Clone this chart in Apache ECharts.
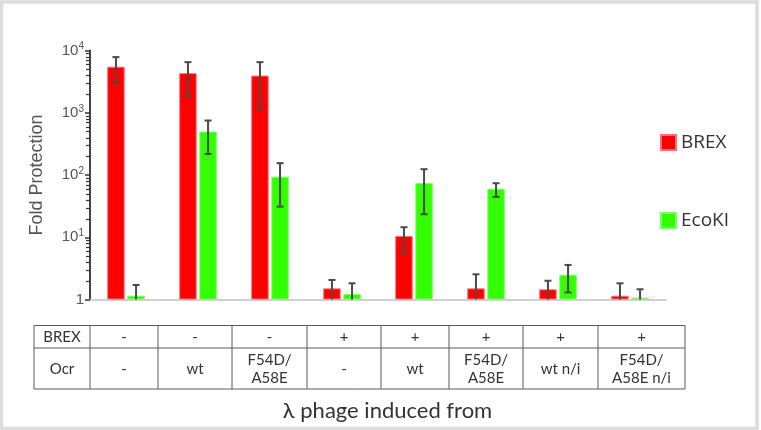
<!DOCTYPE html>
<html>
<head>
<meta charset="utf-8">
<script src="https://cdn.jsdelivr.net/npm/echarts@6/dist/echarts.min.js"></script>
<style>
html,body{margin:0;padding:0;background:#fff;}
#chart{width:761px;height:430px;}
</style>
</head>
<body>
<div id="chart"></div>
<script>
// ---- data ----
const brexRow = ['-', '-', '-', '+', '+', '+', '+', '+'];
const ocrRow = ['-', 'wt', 'F54D/\nA58E', '-', 'wt', 'F54D/\nA58E', 'wt n/i', 'F54D/\nA58E n/i'];
const categories = brexRow.map((b, i) => 'BREX ' + b + ' / Ocr ' + ocrRow[i].replace('\n', ''));
const seriesNames = ['BREX', 'EcoKI'];
const brexValues = [5500, 4330, 3960, 1.51, 10.5, 1.51, 1.46, 1.15];
const brexLow = [2990, 1870, 1186, 0.5, 5.8, 0.5, 0.6, 0.5];
const brexHigh = [7830, 6500, 6500, 2.06, 14.5, 2.54, 2.0, 1.82];
const ecokiValues = [1.15, 499, 94, 1.22, 74.6, 60.4, 2.5, 1.07];
const ecokiLow = [0.5, 218, 31, 0.5, 23.4, 44.5, 1.3, 0.6];
const ecokiHigh = [1.71, 750, 155, 1.82, 124, 73.8, 3.59, 1.46];
const yTickValues = [1, 10, 100, 1000, 10000];

// minor tick values (2..9 within each decade)
const minorTicks = [];
for (let d = 0; d < yTickValues.length - 1; d++) {
  for (let k = 2; k <= 9; k++) minorTicks.push(k * yTickValues[d]);
}

const BAR_W = 17.5;
const BAR_GAP = 2.6;
const OFF = (BAR_W + BAR_GAP) / 2;

function errorSeries(name, low, high, offset) {
  return {
    type: 'custom',
    name: name + ' err',
    z: 10,
    silent: true,
    data: low.map((l, i) => [i, l, high[i]]),
    encode: { x: 0, y: [1, 2] },
    renderItem: function (params, api) {
      const i = api.value(0), lo = api.value(1), hi = api.value(2);
      const top = api.coord([i, hi]);
      const x = top[0] + offset;
      const base = api.coord([i, yTickValues[0]])[1];
      const hasLo = lo >= yTickValues[0];
      const yLo = hasLo ? api.coord([i, lo])[1] : base;
      const st = { stroke: '#4a4a4a', lineWidth: 2 };
      const children = [
        { type: 'line', shape: { x1: x, y1: yLo, x2: x, y2: top[1] }, style: st },
        { type: 'line', shape: { x1: x - 3.5, y1: top[1], x2: x + 3.5, y2: top[1] }, style: st }
      ];
      if (hasLo) children.push({ type: 'line', shape: { x1: x - 3.5, y1: yLo, x2: x + 3.5, y2: yLo }, style: st });
      return { type: 'group', children: children };
    }
  };
}

// table layout
const colEdges = [34, 90, 158, 232, 307, 381, 449, 523, 598, 685];
const rowEdges = [325.5, 348, 389];
const tableRows = [['BREX'].concat(brexRow), ['Ocr'].concat(ocrRow)];
const tableEls = [];
rowEdges.forEach(y => tableEls.push({ type: 'line', shape: { x1: colEdges[0], y1: y, x2: colEdges[colEdges.length - 1], y2: y }, style: { stroke: '#5a5a5a', lineWidth: 1 } }));
colEdges.forEach(x => tableEls.push({ type: 'line', shape: { x1: x, y1: rowEdges[0], x2: x, y2: rowEdges[rowEdges.length - 1] }, style: { stroke: '#5a5a5a', lineWidth: 1 } }));
tableRows.forEach((row, r) => {
  row.forEach((t, c) => {
    tableEls.push({
      type: 'text',
      style: {
        text: t,
        x: (colEdges[c] + colEdges[c + 1]) / 2,
        y: (rowEdges[r] + rowEdges[r + 1]) / 2 + 0.5,
        align: 'center', verticalAlign: 'middle',
        fontFamily: 'Lato', fontSize: 15, lineHeight: 18, fill: '#333'
      }
    });
  });
});

const chart = echarts.init(document.getElementById('chart'), null, { renderer: 'canvas' });
chart.setOption({
  backgroundColor: '#fff',
  animation: false,
  grid: { left: 90, right: 95, top: 50.5, bottom: 130.5, containLabel: false },
  legend: {
    orient: 'vertical', left: 660, top: 133, padding: 0,
    itemWidth: 15, itemHeight: 15, itemGap: 59,
    icon: 'rect',
    data: seriesNames,
    textStyle: { fontFamily: 'Open Sans', fontSize: 19, color: '#333' }
  },
  xAxis: {
    type: 'category', data: categories,
    axisLine: { show: true, lineStyle: { color: '#d0d0d0', width: 2 } },
    axisTick: { show: false }, axisLabel: { show: false }, splitLine: { show: false }
  },
  yAxis: {
    type: 'log', logBase: 10, min: 1, max: 10000,
    name: 'Fold Protection', nameLocation: 'middle', nameGap: 44,
    nameTextStyle: { fontFamily: 'Liberation Sans', fontSize: 18, color: '#555' },
    axisLine: { show: true, lineStyle: { color: '#444', width: 2 } },
    axisTick: { show: true, length: 5, lineStyle: { color: '#333', width: 1.5 } },
    splitLine: { show: false },
    axisLabel: {
      margin: 6, color: '#555',
      formatter: function (v) {
        const e = Math.round(Math.log10(v));
        return e === 0 ? '{b|1}' : '{b|10}{s|' + e + '}';
      },
      rich: {
        b: { fontFamily: 'Liberation Sans', fontSize: 15, color: '#555' },
        s: { fontFamily: 'Liberation Sans', fontSize: 10, color: '#555', padding: [0, 0, 8, 0] }
      }
    }
  },
  series: [{
    name: 'BREX', type: 'bar', data: brexValues, barWidth: BAR_W, barGap: (BAR_GAP / BAR_W * 100) + '%',
    itemStyle: { color: '#ff0000', borderColor: '#ff7070', borderWidth: 1 }
  }, {
    name: 'EcoKI', type: 'bar', data: ecokiValues, barWidth: BAR_W,
    itemStyle: { color: '#33ff00', borderColor: '#77ff66', borderWidth: 1 }
  },
  errorSeries('BREX', brexLow, brexHigh, -OFF),
  errorSeries('EcoKI', ecokiLow, ecokiHigh, OFF),
  {
    type: 'custom', name: 'minor ticks', silent: true, z: 5, clip: false,
    data: minorTicks.map(v => [0, v]),
    encode: { x: 0, y: 1 },
    renderItem: function (params, api) {
      const p = api.coord([0, api.value(1)]);
      const x0 = p[0] - api.size([1, 0])[0] / 2;
      const y = Math.round(p[1]) + 0.5;
      return { type: 'line', shape: { x1: x0 - 4, y1: y, x2: x0, y2: y }, style: { stroke: '#333', lineWidth: 1.2 } };
    }
  }],
  graphic: [
    { type: 'rect', silent: true, shape: { x: 1.5, y: 2, width: 755.5, height: 426.5 }, style: { fill: 'none', stroke: '#dcdcdc', lineWidth: 3.5 } },
    { type: 'group', silent: true, children: tableEls },
    { type: 'text', silent: true, style: { text: 'λ phage induced from', x: 387.5, y: 411, align: 'center', verticalAlign: 'middle', fontFamily: 'Lato', fontSize: 22, fill: '#333' } }
  ]
});
</script>
</body>
</html>
